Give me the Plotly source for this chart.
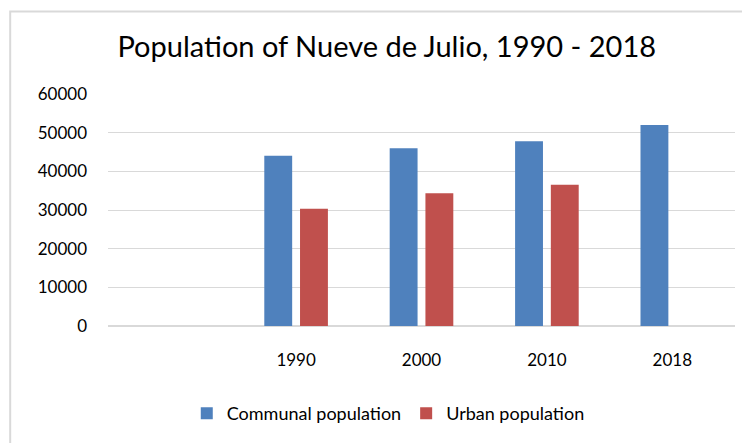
import plotly.graph_objects as go

categories = ["", "1990", "2000", "2010", "2018"]
communal = [None, 44000, 46000, 47800, 52000]
urban = [None, 30300, 34300, 36500, None]
y_ticks = [0, 10000, 20000, 30000, 40000, 50000, 60000]

FONT = "Lato"

fig = go.Figure()
fig.add_trace(go.Bar(name="Communal population", x=categories, y=communal,
                     marker=dict(color="#4f81bd", line=dict(width=0))))
fig.add_trace(go.Bar(name="Urban population", x=categories, y=urban,
                     marker=dict(color="#c0504d", line=dict(width=0))))

fig.update_layout(
    width=750, height=443,
    margin=dict(l=100, r=23, t=86, b=125),
    paper_bgcolor="white", plot_bgcolor="white",
    font=dict(family=FONT, color="#000000", size=17),
    barmode="group", bargap=0.43, bargroupgap=0.22,
    title=dict(text="Population of Nueve de Julio, 1990 - 2018",
               x=0.505, xanchor="center", y=0.912, yanchor="middle",
               font=dict(family=FONT, size=29, color="#000000")),
    showlegend=True,
    legend=dict(orientation="h", x=0.447, xanchor="center", y=-0.377, yanchor="middle",
                font=dict(family=FONT, size=18), itemwidth=30, traceorder="normal"),
    xaxis=dict(type="category", categoryorder="array", categoryarray=categories,
               showgrid=False, showline=False, ticks="", ticklabelstandoff=22,
               tickfont=dict(family=FONT, size=17)),
    yaxis=dict(range=[0, 60000], tickvals=y_ticks, ticktext=[str(v) for v in y_ticks],
               showgrid=True, gridcolor="#d9d9d9", gridwidth=1.3,
               zeroline=True, zerolinecolor="#d9d9d9", zerolinewidth=1.5,
               showline=False, ticks="", ticklabelstandoff=20,
               tickfont=dict(family=FONT, size=17)),
    shapes=[dict(type="rect", xref="paper", yref="paper",
                 x0=-0.156, x1=1.3, y0=-0.7, y1=1.356,
                 line=dict(color="#d9d9d9", width=2), fillcolor="rgba(0,0,0,0)",
                 layer="below")],
)

fig.write_html("out.html")
